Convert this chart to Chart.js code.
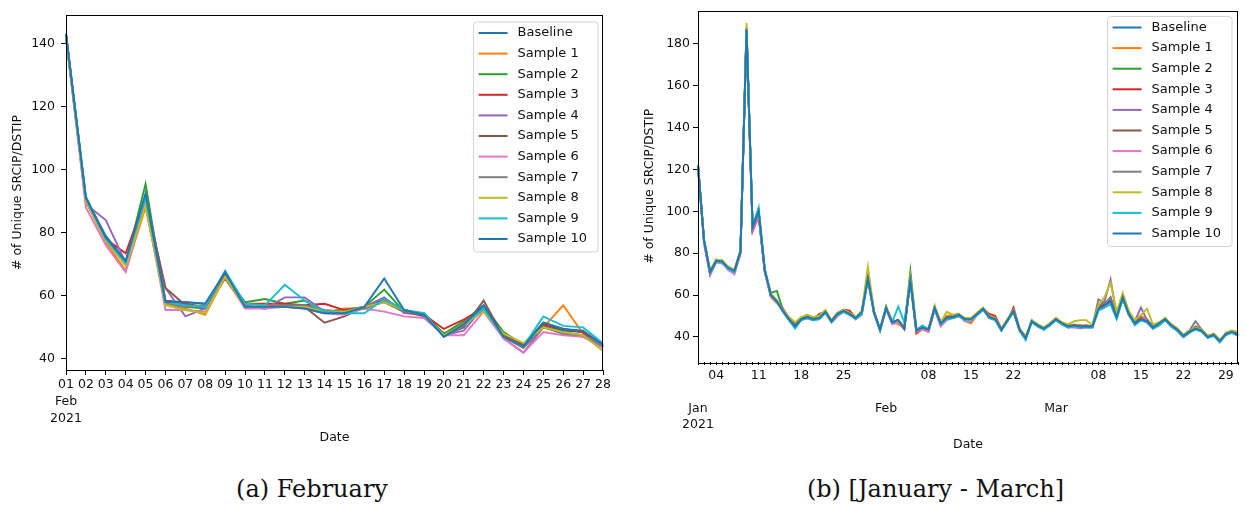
<!DOCTYPE html>
<html>
<head>
<meta charset="utf-8">
<script src="https://cdn.jsdelivr.net/npm/chart.js@4.4.1/dist/chart.umd.min.js"></script>
<style>
  body { margin: 0; background: #fff; width: 1246px; height: 505px; position: relative; overflow: hidden; }
  .panel { position: absolute; top: 0; }
  .caption { position: absolute; top: 474px; font-family: "DejaVu Serif", serif; font-size: 24px; line-height: 30px; text-align: center; color: #111; }
</style>
</head>
<body>
<div class="panel" style="left:0"><canvas id="febChart" width="620" height="460"></canvas></div>
<div class="panel" style="left:625px"><canvas id="quarterChart" width="621" height="460"></canvas></div>
<div class="caption" style="left:0;width:624px">(a) February</div>
<div class="caption" style="left:625px;width:621px">(b) [January - March]</div>

<script>
// series names and colours (matplotlib tab10 cycle)
const seriesNames = ['Baseline', 'Sample 1', 'Sample 2', 'Sample 3', 'Sample 4', 'Sample 5',
    'Sample 6', 'Sample 7', 'Sample 8', 'Sample 9', 'Sample 10'];
const seriesColors = ['#1f77b4', '#ff7f0e', '#2ca02c', '#d62728', '#9467bd', '#8c564b',
    '#e377c2', '#7f7f7f', '#bcbd22', '#17becf', '#1f77b4'];

// (a) February 2021, one value per day
const febLabels = [['01', 'Feb', '2021'], '02', '03', '04', '05', '06', '07', '08', '09', '10',
    '11', '12', '13', '14', '15', '16', '17', '18', '19', '20', '21', '22', '23', '24', '25', '26', '27', '28'];
const febBaseline = [143, 91, 79, 71, 92, 58.5, 58, 57.5, 67, 56.5, 56.5, 57, 57, 55, 55.5, 56.5, 59, 55.5, 54, 47.5, 51, 56.5, 47, 44, 51, 49, 48.5, 44];
const febS1 = [142, 90, 77, 68, 88, 57.5, 56, 54, 66, 56.5, 57, 56.5, 56, 54.5, 56, 56, 58, 55, 54, 48, 51.5, 55.5, 47.5, 44.5, 50, 57, 48, 43.5];
const febS2 = [143, 91.5, 78, 70, 95.5, 58, 56.5, 56, 66.5, 58, 59, 57.5, 58.5, 55, 55.5, 56.5, 62, 55, 54.5, 48, 52, 57, 48.5, 44.5, 51.5, 49.5, 48.5, 44];
const febS3 = [143, 90, 78, 73.5, 91, 58.5, 57.5, 56.5, 66.5, 57.5, 57.5, 57.5, 57, 57.5, 55.5, 56, 58.5, 55, 54, 49.5, 52.5, 56, 47.5, 44.5, 51, 49.5, 48.5, 44];
const febS4 = [142, 89, 84, 70.5, 91, 62.5, 53.5, 56, 65.5, 57, 56, 59.5, 59.5, 55, 55, 56.5, 59.5, 54.5, 54, 47.5, 49, 56.5, 46.5, 42, 50, 48.5, 47.5, 44.5];
const febS5 = [142, 90, 78.5, 70, 90.5, 62.5, 57, 56.5, 65.5, 56.5, 56, 57, 56.5, 51.5, 53.5, 56.5, 58, 55, 53.5, 47.5, 50, 58.5, 47, 43.5, 50.5, 48.5, 47, 44];
const febS6 = [142, 88, 76, 67.5, 89.5, 55.5, 55.5, 55, 66, 56, 56, 56.5, 56, 54.5, 54, 56, 55, 53.5, 53, 47.5, 47.5, 55, 46.5, 42, 48.5, 47.5, 47, 43.5];
const febS7 = [142, 90.5, 78, 70, 91.5, 58, 56.5, 57, 66, 56.5, 56.5, 57, 57, 55.5, 55, 56, 58.5, 55, 54.5, 47, 50.5, 56, 47, 43.5, 50, 48, 47.5, 44];
const febS8 = [142, 90, 77.5, 69.5, 88.5, 57, 55.5, 54.5, 66, 56.5, 56.5, 56.5, 56.5, 55, 55, 56.5, 58, 55.5, 54, 47.5, 51, 55, 48, 45, 50, 48.5, 47.5, 42.5];
const febS9 = [143, 91, 78, 70.5, 91.5, 58, 57, 56.5, 68, 57.5, 57, 63.5, 58.5, 55, 54.5, 54.5, 59, 55.5, 54.5, 47, 51, 56, 47, 44, 53.5, 50.5, 50, 45];
const febS10 = [143, 91, 78.5, 71, 92.5, 58, 58, 57.5, 67.5, 56.5, 56.5, 56.5, 56, 54.5, 54.5, 56.5, 65.5, 55.5, 54, 47, 51, 57, 47, 44, 51.5, 49.5, 49, 44.5];
const febTicks = [40, 60, 80, 100, 120, 140];

// (b) 1 Jan - 31 Mar 2021, one value per day (90 days); labels only on weekly / month ticks
const quarterLabelMarks = {
    0: ['', '', 'Jan', '2021'], 3: '04', 10: '11', 17: '18', 24: '25',
    31: ['', '', 'Feb'], 38: '08', 45: '15', 52: '22',
    59: ['', '', 'Mar'], 66: '08', 73: '15', 80: '22', 87: '29'
};
const quarterBaseline = [122,86,71,76.5,76,73,71.5,81,187,92, 100,72,60,57,52.5,48.5,45.5,48.5,49.5,48.5, 49,52,47.5,51,52.5,51,49,52,68,52, 43.5,54,47,48,44,67,43,44.5,43.5,54, 46.5,49,49.5,50.5,48.5,48.5,51,53.5,49.5,48.5, 43.5,48,52.5,43.5,39.5,47.5,45.5,44,46,48.5, 46.5,45,45.5,45,45,45,53.5,55,57,49.5, 59,51,46.5,48.5,47.5,44.5,46.5,48.5,45.5,43.5, 40.5,42.5,44,43,40,41,38,41.5,42.5,41];
const quarterS1 = [121,85,70,77,75.5,72,70.5,80,186,93, 99,71,59,56,53,49,46.5,49,50,49, 49.5,51.5,48,51.5,53,52,49.5,51,70,51, 44,53,47.5,46,44.5,66,41.5,43.5,42.5,53, 47.5,50,50.5,51,47.5,46.5,50.5,53,50,49, 44,47.5,52,44,40,47,45,44.5,46.5,48, 46,45.5,46,45.5,45.5,45,54,56,58,50, 58.5,51.5,47,50,48.5,45,47,48,46,44, 41,43,44.5,43.5,40.5,41.5,37.5,42,43,42];
const quarterS2 = [122,86.5,71.5,76,76.5,72.5,71,80.5,188,92.5, 99.5,72.5,61,62,53,49,46,48.5,49,48.5, 49.5,52.5,47,50.5,52,51.5,48.5,52,70,52.5, 43,54.5,46.5,47.5,44,71.5,43.5,45,44,54, 46,49.5,49,50,48.5,48,51.5,53.5,49,48, 43.5,48,52.5,43,39,47.5,46,44.5,46,48.5, 46,45,45,45.5,45,45.5,54,55.5,57.5,50, 59.5,51,46,48,47,44,46,49,45,43, 40,42,44.5,43,40.5,41,38,41,42.5,41.5];
const quarterS3 = [122,85.5,70,76,75.5,73.5,72,81,186,90.5, 97.5,71.5,60,57,53.5,49,46,49,50.5,49, 50,52,48,51,53,52.5,49,51.5,69,51.5, 44,53.5,47,48,44.5,68,42,44,43,53.5, 47,49,50,51,48,48,51,53.5,51,50, 44,47.5,54,44,40,47,45.5,44,46,48, 46.5,45.5,45,45,45.5,45,53,55,57.5,50.5, 58,51.5,47,49,47,44.5,46.5,48.5,46,43.5, 40.5,43,44.5,43.5,40,41.5,38.5,41,42,41.5];
const quarterS4 = [121,85,70.5,76.5,76,72.5,71,80,187,91.5, 98.5,72,60.5,57.5,52,48,45,48,49,48, 49,51.5,47,50,52,51,48.5,51.5,68.5,51.5, 43.5,53.5,46.5,47.5,43.5,67.5,42.5,44,43,53.5, 45.5,48.5,49,50,49,48,50.5,53,49,48.5, 43,48.5,52,43,39,48,45,43.5,46.5,49, 46,44.5,45,44.5,45,44.5,55,57,67.5,50, 59,50.5,47.5,54,48,45.5,46,48,45,43, 40,42.5,44,42.5,40,40.5,37.5,41,42,40.5];
const quarterS5 = [121.5,85.5,70,76,75.5,72.5,71,80.5,187,91, 98,71.5,60,57,52.5,48,45.5,48,50.5,48.5, 51,52,47.5,51.5,52,50.5,49,51.5,68,52, 43.5,54,47,48,44,67,42.5,44,43,54, 46,49,49.5,50,48,47.5,51,53.5,49.5,48.5, 43.5,48,52,43.5,39.5,47.5,45.5,44,46,48.5, 46.5,45,45.5,44.5,45,45,54.5,55.5,59,49.5, 58.5,50.5,46.5,49,47,44,46,48,45.5,43, 40,42,45,43.5,40,41,38,41.5,42,41];
const quarterS6 = [121,84.5,69.5,75.5,75,72,70,79.5,186,91, 97.5,71,59.5,56.5,52,48,45,48,49,48, 48.5,51.5,47,50,52,51,48.5,50.5,67,51, 43,53,46,47,43.5,66.5,42.5,43.5,42.5,53, 45,48,49,50,47.5,47.5,50.5,53,49,48, 43,47.5,53,43,39,47,45,43.5,45.5,48, 46,44.5,44.5,44,44.5,44.5,53,54.5,56,49, 58,50.5,46,48,47,44,45.5,48,45,43, 40,42,44,42.5,39.5,40.5,37.5,41,42,40.5];
const quarterS7 = [122,86,71,76.5,76.5,73,71.5,80.5,187,92, 99,72,60,57,52.5,48.5,45.5,48.5,49.5,48.5, 49,52,47.5,51,52.5,51,49,52,68,52, 43.5,54,47,48,44,67,43,44.5,43.5,54, 46.5,49,49.5,50.5,48.5,48.5,51,53.5,49.5,48.5, 43.5,48,52.5,43.5,39.5,47.5,45.5,44,46,48.5, 46.5,45,45.5,45,45,45,58,56,58.5,50, 59,51,46.5,48.5,47.5,44.5,46.5,48.5,45.5,43.5, 40.5,43,47.5,43.5,40,41,38,41.5,42.5,41];
const quarterS8 = [122,86.5,72,77,76.5,73.5,72,81.5,190,93, 100,72.5,60.5,57.5,53,49.5,47,49.5,50.5,49.5, 50,53,48,51.5,53,51.5,49.5,52.5,73.5,52.5, 44,54.5,48,47.5,44.5,69,43.5,45,44,55, 47,52,50.5,51,49,49,51.5,54,50,49, 44,48.5,53,44,40,48,46,44.5,46.5,49, 47,46,47.5,48,48,45.5,55,59,66,52, 61,52.5,48,50.5,53.5,46,47,49,46,44, 41,43,44.5,43.5,40.5,41.5,38.5,42,43,42.5];
const quarterS9 = [122,86,70.5,76,75.5,72.5,71,80.5,187,93, 102,72,60,57,52,48,44,48,49,48, 48.5,51.5,47,50.5,52,50.5,48.5,51,67.5,51.5, 43,53.5,47,54.5,47,66.5,43.5,45.5,43.5,53.5, 46,48.5,49,50,48,48,50.5,53,49,48, 43,47.5,52,43,38.5,47,45,43.5,45.5,48, 46,44.5,45,44.5,44.5,44.5,52.5,54,55.5,48.5, 58,50.5,45.5,48,47,44,45.5,48,45,43, 40,42,43.5,42.5,39.5,40.5,37.5,41,42,40.5];
const quarterS10 = [122,86,71,76.5,76,73,71.5,81,187,92.5, 100,72,60,57,52.5,48.5,45,48.5,49.5,48.5, 49,52,47.5,51,52.5,51,49,52,68,52, 43.5,54,47,48,44,67,43,44.5,43.5,54, 46.5,49,49.5,50.5,48.5,48.5,51,53.5,49.5,48.5, 43.5,48,52.5,43.5,39.5,47.5,45.5,44,46,48.5, 46.5,45,45.5,45,45,45,53.5,55,57,49.5, 59,51,46.5,48.5,47.5,44.5,46.5,48.5,45.5,43.5, 40.5,42.5,44,43,40,41,38,41.5,42.5,41];
const quarterTicks = [40, 60, 80, 100, 120, 140, 160, 180];

const febSeries = [febBaseline, febS1, febS2, febS3, febS4, febS5, febS6, febS7, febS8, febS9, febS10];
const quarterSeries = [quarterBaseline, quarterS1, quarterS2, quarterS3, quarterS4, quarterS5,
    quarterS6, quarterS7, quarterS8, quarterS9, quarterS10];
const quarterLabels = quarterBaseline.map((v, i) => quarterLabelMarks[i] || '');

const FONT = 'DejaVu Sans';
const TEXT = '#111';

// frame around the plot area + matplotlib-like legend in the upper right
const framePlugin = {
    id: 'frameAndLegend',
    afterDatasetsDraw(chart, args, opts) {
        const { ctx, chartArea: a } = chart;
        ctx.save();
        ctx.strokeStyle = '#000';
        ctx.lineWidth = 1;
        ctx.strokeRect(Math.round(a.left) + 0.5, Math.round(a.top) + 0.5,
            Math.round(a.right - a.left) - 1, Math.round(a.bottom - a.top));

        const sets = chart.data.datasets;
        ctx.font = '13px "' + FONT + '"';
        const textW = Math.max(...sets.map(d => ctx.measureText(d.label).width));
        const w = 44 + textW + 11;
        const rowH = 20.6;
        const h = 11 + rowH * (sets.length - 1) + 13;
        const x = a.right - opts.right - w;
        const y = a.top + opts.top;
        ctx.beginPath();
        ctx.roundRect(x, y, w, h, 3);
        ctx.fillStyle = 'rgba(255,255,255,0.8)';
        ctx.fill();
        ctx.strokeStyle = '#d4d4d4';
        ctx.stroke();
        ctx.textBaseline = 'middle';
        ctx.textAlign = 'left';
        sets.forEach((d, i) => {
            const cy = y + 11 + i * rowH;
            ctx.beginPath();
            ctx.moveTo(x + 5, cy);
            ctx.lineTo(x + 34, cy);
            ctx.strokeStyle = d.borderColor;
            ctx.lineWidth = 2;
            ctx.stroke();
            ctx.fillStyle = TEXT;
            ctx.fillText(d.label, x + 44, cy);
        });
        ctx.restore();
    }
};

function makeDatasets(series) {
    return series.map((values, i) => ({
        label: seriesNames[i],
        data: values,
        borderColor: seriesColors[i],
        backgroundColor: seriesColors[i],
        borderWidth: 1.9,
        pointRadius: 0,
        tension: 0,
        order: series.length - 1 - i
    }));
}

function buildChart(canvasId, cfg) {
    const ctx = document.getElementById(canvasId);
    return new Chart(ctx.getContext('2d'), {
        type: 'line',
        data: { labels: cfg.labels, datasets: makeDatasets(cfg.series) },
        options: {
            responsive: false,
            animation: false,
            devicePixelRatio: 1,
            layout: { padding: cfg.padding },
            plugins: {
                legend: { display: false },
                tooltip: { enabled: false },
                frameAndLegend: cfg.legend
            },
            scales: {
                x: {
                    type: 'category',
                    border: { display: false },
                    grid: { display: true, drawOnChartArea: false, drawTicks: true, tickLength: cfg.xTickLen, color: '#000' },
                    ticks: {
                        autoSkip: false, maxRotation: 0, padding: cfg.xPad, color: TEXT,
                        font: { family: FONT, size: 12.5, lineHeight: cfg.xLine }
                    },
                    title: { display: true, text: 'Date', color: TEXT, font: { family: FONT, size: 12.5 }, padding: { top: 0, bottom: cfg.xTitlePad } },
                    afterFit: (s) => { s.height = cfg.xHeight; }
                },
                y: {
                    min: cfg.yMin,
                    max: cfg.yMax,
                    border: { display: false },
                    grid: { display: true, drawOnChartArea: false, drawTicks: true, tickLength: 5, color: '#000' },
                    afterBuildTicks: (s) => { s.ticks = cfg.yTicks.map(v => ({ value: v })); },
                    ticks: { padding: cfg.yPad, color: TEXT, font: { family: FONT, size: 12.5 } },
                    title: { display: true, text: '# of Unique SRCIP/DSTIP', color: TEXT, font: { family: FONT, size: 12.5 }, padding: { top: cfg.yTitlePad, bottom: 0 } },
                    afterFit: (s) => { s.width = cfg.yWidth; }
                }
            }
        },
        plugins: [framePlugin]
    });
}

buildChart('febChart', {
    labels: febLabels, series: febSeries,
    padding: { top: 15, right: 17, left: 0, bottom: 0 },
    yMin: 36.5, yMax: 149, yTicks: febTicks, yWidth: 66, yPad: 6, yTitlePad: 10,
    xHeight: 90, xTickLen: 5, xPad: 1, xLine: '17px', xTitlePad: 15,
    legend: { right: 5, top: 7 }
});

buildChart('quarterChart', {
    labels: quarterLabels, series: quarterSeries,
    padding: { top: 8, right: 8, left: 0, bottom: 0 },
    yMin: 28, yMax: 196, yTicks: quarterTicks, yWidth: 73, yPad: 3, yTitlePad: 17,
    xHeight: 98, xTickLen: 3, xPad: 2, xLine: '16.5px', xTitlePad: 8,
    legend: { right: 6, top: 6 }
});
</script>
</body>
</html>
